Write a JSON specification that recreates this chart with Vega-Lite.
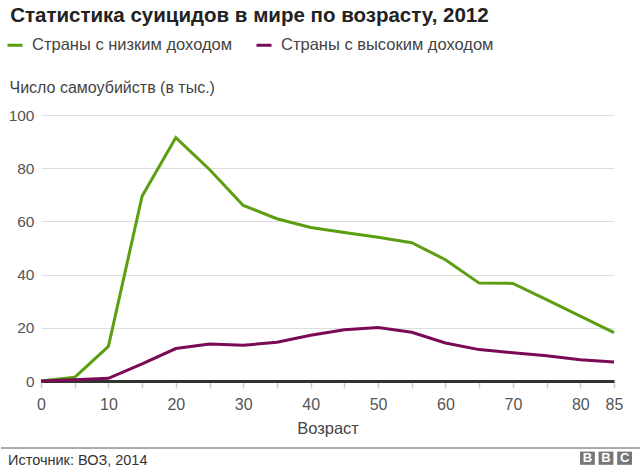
{
  "$schema": "https://vega.github.io/schema/vega-lite/v6.json",
  "padding": {"left": 0, "top": 5, "right": 0, "bottom": 0},
  "spacing": 10,
  "config": {
    "font": "Liberation Sans",
    "view": {"stroke": null}
  },
  "vconcat": [
    {
      "title": {
        "text": "Статистика суицидов в мире по возрасту, 2012",
        "anchor": "start",
        "frame": "bounds",
        "dx": 2,
        "fontSize": 20.5,
        "fontWeight": "bold",
        "color": "#222",
        "offset": 53
      },
      "width": 573,
      "height": 266,
      "data": {
        "values": [
          {"age": 0, "group": "Страны с низким доходом", "value": 0},
          {"age": 5, "group": "Страны с низким доходом", "value": 1.4},
          {"age": 10, "group": "Страны с низким доходом", "value": 13},
          {"age": 15, "group": "Страны с низким доходом", "value": 69.5},
          {"age": 20, "group": "Страны с низким доходом", "value": 91.5},
          {"age": 25, "group": "Страны с низким доходом", "value": 79.5},
          {"age": 30, "group": "Страны с низким доходом", "value": 66},
          {"age": 35, "group": "Страны с низким доходом", "value": 61},
          {"age": 40, "group": "Страны с низким доходом", "value": 57.7},
          {"age": 45, "group": "Страны с низким доходом", "value": 55.8},
          {"age": 50, "group": "Страны с низким доходом", "value": 54},
          {"age": 55, "group": "Страны с низким доходом", "value": 52},
          {"age": 60, "group": "Страны с низким доходом", "value": 45.6},
          {"age": 65, "group": "Страны с низким доходом", "value": 36.8},
          {"age": 70, "group": "Страны с низким доходом", "value": 36.7},
          {"age": 75, "group": "Страны с низким доходом", "value": 30.6},
          {"age": 80, "group": "Страны с низким доходом", "value": 24.4},
          {"age": 85, "group": "Страны с низким доходом", "value": 18.2},
          {"age": 0, "group": "Страны с высоким доходом", "value": 0},
          {"age": 5, "group": "Страны с высоким доходом", "value": 0.5},
          {"age": 10, "group": "Страны с высоким доходом", "value": 1},
          {"age": 15, "group": "Страны с высоким доходом", "value": 6.4},
          {"age": 20, "group": "Страны с высоким доходом", "value": 12.2},
          {"age": 25, "group": "Страны с высоким доходом", "value": 13.9},
          {"age": 30, "group": "Страны с высоким доходом", "value": 13.4},
          {"age": 35, "group": "Страны с высоким доходом", "value": 14.6},
          {"age": 40, "group": "Страны с высоким доходом", "value": 17.2},
          {"age": 45, "group": "Страны с высоким доходом", "value": 19.3},
          {"age": 50, "group": "Страны с высоким доходом", "value": 20.1},
          {"age": 55, "group": "Страны с высоким доходом", "value": 18.3},
          {"age": 60, "group": "Страны с высоким доходом", "value": 14.3},
          {"age": 65, "group": "Страны с высоким доходом", "value": 11.8},
          {"age": 70, "group": "Страны с высоким доходом", "value": 10.6},
          {"age": 75, "group": "Страны с высоким доходом", "value": 9.5},
          {"age": 80, "group": "Страны с высоким доходом", "value": 8},
          {"age": 85, "group": "Страны с высоким доходом", "value": 7.1}
        ]
      },
      "mark": {"type": "line", "strokeWidth": 3},
      "encoding": {
        "x": {
          "field": "age",
          "type": "quantitative",
          "scale": {"domain": [0, 85], "nice": false},
          "axis": {
            "title": "Возраст",
            "values": [0, 5, 10, 15, 20, 25, 30, 35, 40, 45, 50, 55, 60, 65, 70, 75, 80, 85],
            "labelExpr": "(datum.value % 10 == 0 || datum.value == 85) ? datum.label : ''",
            "labelOverlap": false,
            "labelFlush": false,
            "grid": false,
            "domainColor": "#333",
            "domainWidth": 3,
            "tickColor": "#ccc",
            "tickSize": 7,
            "tickWidth": 1.5,
            "labelFontSize": 16,
            "labelColor": "#555",
            "labelPadding": 8,
            "titleFontSize": 16.5,
            "titleFontWeight": "normal",
            "titleColor": "#444",
            "titlePadding": 8
          }
        },
        "y": {
          "field": "value",
          "type": "quantitative",
          "scale": {"domain": [0, 100], "nice": false},
          "axis": {
            "title": "Число самоубийств (в тыс.)",
            "titleAngle": 0,
            "titleAlign": "left",
            "titleBaseline": "middle",
            "titleX": -32,
            "titleY": -28,
            "titleFontSize": 16,
            "titleFontWeight": "normal",
            "titleColor": "#444",
            "values": [0, 20, 40, 60, 80, 100],
            "domain": false,
            "ticks": false,
            "labelPadding": 7,
            "labelFontSize": 15.5,
            "labelColor": "#555",
            "gridColor": "#ddd",
            "gridWidth": 1
          }
        },
        "color": {
          "field": "group",
          "type": "nominal",
          "scale": {
            "domain": ["Страны с низким доходом", "Страны с высоким доходом"],
            "range": ["#5c9e12", "#7a0a55"]
          },
          "legend": {
            "orient": "none",
            "legendX": -40,
            "legendY": -84,
            "padding": 5,
            "direction": "horizontal",
            "title": null,
            "symbolType": "stroke",
            "symbolStrokeWidth": 3,
            "symbolSize": 225,
            "labelFontSize": 16.5,
            "labelColor": "#444",
            "labelLimit": 0,
            "labelOffset": 8,
            "columnPadding": 17
          }
        }
      }
    },
    {
      "width": 600,
      "height": 24,
      "layer": [
        {
          "data": {"values": [{"label": "Источник: ВОЗ, 2014"}]},
          "layer": [
            {
              "mark": {"type": "rule", "color": "#aaa", "strokeWidth": 2},
              "encoding": {
                "x": {"datum": 0, "type": "quantitative", "scale": {"domain": [0, 1], "range": [-40, 600], "nice": false}, "axis": null},
                "x2": {"datum": 1},
                "y": {"datum": 0, "type": "quantitative", "scale": {"domain": [0, 1], "reverse": true, "nice": false}, "axis": null}
              }
            },
            {
              "mark": {"type": "text", "align": "left", "baseline": "middle", "fontSize": 14.5, "color": "#333", "dx": 7},
              "encoding": {
                "text": {"field": "label"},
                "x": {"datum": 0, "type": "quantitative"},
                "y": {"datum": 0.55, "type": "quantitative"}
              }
            }
          ]
        },
        {
          "data": {"values": [{"k": "1", "letter": "B"}, {"k": "2", "letter": "B"}, {"k": "3", "letter": "C"}]},
          "encoding": {
            "x": {
              "field": "k",
              "type": "nominal",
              "scale": {"type": "band", "paddingInner": 0.2, "paddingOuter": 0, "range": [539, 591]},
              "axis": null
            }
          },
          "layer": [
            {"mark": {"type": "rect", "color": "#777"}, "encoding": {"y": {"datum": 0.15, "type": "quantitative"}, "y2": {"datum": 0.7}}},
            {"mark": {"type": "text", "color": "white", "fontWeight": "bold", "fontSize": 13, "baseline": "middle"}, "encoding": {"text": {"field": "letter"}, "y": {"datum": 0.43, "type": "quantitative"}}}
          ]
        }
      ],
      "resolve": {"scale": {"x": "independent"}}
    }
  ]
}
